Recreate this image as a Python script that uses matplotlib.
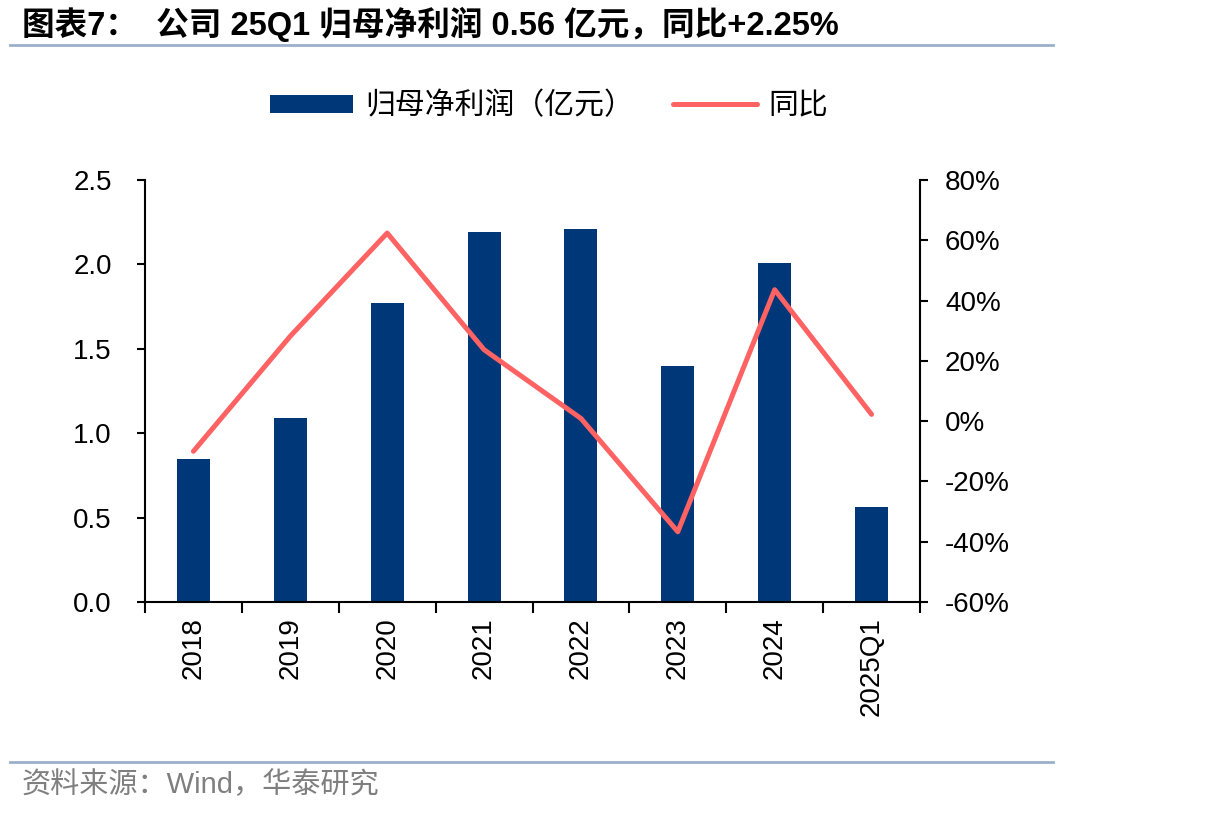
import matplotlib
matplotlib.use("Agg")
import matplotlib.pyplot as plt
import numpy as np
from matplotlib.ticker import FuncFormatter

plt.rcParams['font.family'] = ['Liberation Sans', 'Noto Sans CJK SC', 'DejaVu Sans']

categories = ['2018', '2019', '2020', '2021', '2022', '2023', '2024', '2025Q1']
profit = [0.85, 1.09, 1.77, 2.19, 2.21, 1.40, 2.01, 0.56]
yoy = [-10.0, 28.2, 62.4, 23.7, 0.9, -36.7, 43.6, 2.25]

bar_color = '#003778'
line_color = '#FF6262'

fig = plt.figure(figsize=(12.06, 8.16), dpi=100)
ax = fig.add_axes([145/1206, 1-602/816, (920-145)/1206, (602-180)/816])
ax2 = ax.twinx()

x = np.arange(len(categories))
bars = ax.bar(x, profit, width=0.34, color=bar_color, zorder=2, label='归母净利润（亿元）')
line, = ax2.plot(x, yoy, color=line_color, lw=3.6, solid_capstyle='round', solid_joinstyle='round', zorder=3, label='同比')
ax2.set_zorder(ax.get_zorder() + 1)
ax.patch.set_visible(False)

ax.set_xlim(-0.5, len(categories) - 0.5)
ax.set_ylim(0, 2.5)
ax.set_yticks(np.arange(0, 2.51, 0.5))
ax.yaxis.set_major_formatter(FuncFormatter(lambda v, p: f'{v:.1f}'))
ax2.set_ylim(-60, 80)
ax2.set_yticks(np.arange(-60, 81, 20))
ax2.yaxis.set_major_formatter(FuncFormatter(lambda v, p: f'{int(v)}%'))

ax.set_xticks(np.arange(-0.5, len(categories), 1.0), minor=False)
ax.set_xticklabels([])
ax.set_xticks(x, minor=True)
ax.set_xticklabels(categories, minor=True, rotation=90, fontsize=20)
ax.tick_params(axis='x', which='major', direction='out', length=8, width=1.5, color='black')
ax.tick_params(axis='x', which='minor', length=0, pad=11)
ax.tick_params(axis='y', direction='out', length=6, width=1.5, labelsize=20, pad=18)
ax2.tick_params(axis='y', direction='out', length=6, width=1.5, labelsize=20, pad=12)

for a in (ax, ax2):
    a.spines['top'].set_visible(False)
    for s in ['left', 'right', 'bottom']:
        a.spines[s].set_linewidth(1.5)
        a.spines[s].set_color('black')
ax.spines['right'].set_visible(False)
ax2.spines['left'].set_visible(False)
ax2.spines['bottom'].set_visible(False)

leg = fig.legend(handles=[bars, line], labels=['归母净利润（亿元）', '同比'],
                 loc='center', bbox_to_anchor=(549/1206, 1-106/816), ncol=2,
                 frameon=False, fontsize=21.5, handlelength=2.8, handleheight=0.55,
                 columnspacing=1.3, handletextpad=0.4)

# title and source
fig.text(22/1206, 1-24/816, '图表7：  公司 25Q1 归母净利润 0.56 亿元，同比+2.25%',
         fontsize=23.5, fontweight='bold', va='center', ha='left')
fig.add_artist(plt.Line2D([10/1206, 1053/1206], [1-45/816, 1-45/816], color='#9AB0CA', lw=2))
fig.add_artist(plt.Line2D([10/1206, 1053/1206], [1-762/816, 1-762/816], color='#9AB0CA', lw=2))
fig.text(22/1206, 1-785/816, '资料来源：Wind，华泰研究', fontsize=21, color='#7F7F7F', va='center', ha='left')

fig.savefig('out.png', dpi=100)
